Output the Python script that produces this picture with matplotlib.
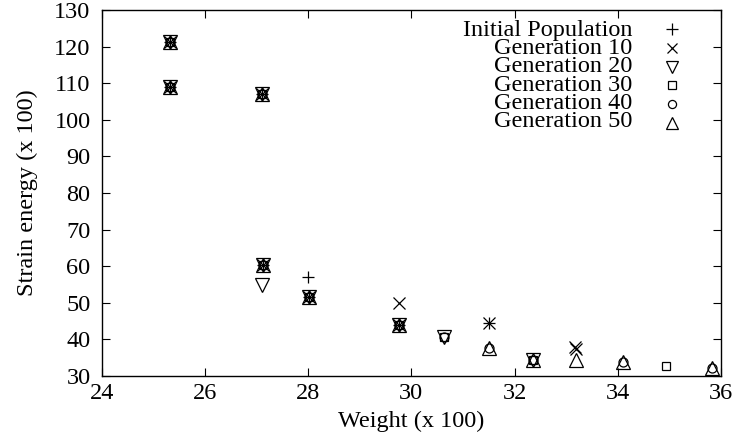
import matplotlib
matplotlib.use("Agg")
import matplotlib.pyplot as plt

plt.rcParams['font.family'] = ['Liberation Serif', 'DejaVu Serif']

# series (weight x 100, strain energy x 100)
labels = ["Initial Population", "Generation 10", "Generation 20",
          "Generation 30", "Generation 40", "Generation 50"]
markers = ["+", "x", "v", "s", "o", "^"]

init_w = [25.33, 25.33, 27.11, 27.12, 28.0, 28.02, 29.76, 31.51]
init_e = [121.4, 109.1, 107.0, 60.3, 57.1, 51.5, 43.9, 44.3]

gen10_w = [25.33, 25.33, 27.11, 27.12, 28.02, 29.76, 29.76, 31.51, 33.17, 33.2]
gen10_e = [121.4, 109.1, 107.0, 60.3, 51.5, 50.0, 43.9, 44.3, 37.9, 37.2]

gen20_w = [25.33, 25.33, 27.11, 27.12, 27.11, 28.02, 29.76, 30.63, 32.36]
gen20_e = [121.4, 109.1, 107.0, 60.3, 54.8, 51.5, 43.9, 40.5, 34.3]

gen30_w = [25.33, 25.33, 27.11, 27.12, 28.02, 29.76, 30.63, 32.36, 34.94]
gen30_e = [121.4, 109.1, 107.0, 60.3, 51.5, 43.9, 40.5, 34.3, 32.7]

gen40_w = [25.33, 25.33, 27.11, 27.12, 28.02, 29.76, 30.63, 31.51, 32.36, 34.1, 35.82]
gen40_e = [121.4, 109.1, 107.0, 60.3, 51.5, 43.9, 40.5, 37.5, 34.3, 33.8, 32.2]

gen50_w = [25.33, 25.33, 27.11, 27.12, 28.02, 29.76, 31.51, 32.36, 33.2, 34.1, 35.82]
gen50_e = [121.4, 109.1, 107.0, 60.3, 51.5, 43.9, 37.5, 34.3, 34.4, 33.8, 32.2]

xs = [init_w, gen10_w, gen20_w, gen30_w, gen40_w, gen50_w]
ys = [init_e, gen10_e, gen20_e, gen30_e, gen40_e, gen50_e]
sizes = [9, 8, 9.5, 6, 6.5, 9.5]

fig = plt.figure(figsize=(7.4, 4.38), dpi=100)
ax = fig.add_axes([0.1374, 0.1422, 0.8369, 0.8343])

for x, y, m, s in zip(xs, ys, markers, sizes):
    ax.plot(x, y, linestyle='none', marker=m, markersize=s,
            markerfacecolor='none', markeredgecolor='black',
            markeredgewidth=0.9, color='black', clip_on=False)

# gnuplot-style key: right-aligned text block, symbols to the right
row_step = 0.0512
top_row = 0.948
ax.text(0.857, top_row - 2.5 * row_step, "\n".join(labels),
        transform=ax.transAxes, ha='right', va='center',
        multialignment='right', linespacing=0.83, fontsize=17.5)
for i, (m, s) in enumerate(zip(markers, sizes)):
    ypos = top_row - i * row_step
    ax.plot([0.921], [ypos], transform=ax.transAxes, linestyle='none',
            marker=m, markersize=s * 0.9, markerfacecolor='none',
            markeredgecolor='black', markeredgewidth=0.9)

ax.set_xlim(24, 36)
ax.set_ylim(30, 130)
ax.set_xticks(range(24, 37, 2))
ax.set_yticks(range(30, 131, 10))
ax.tick_params(direction='in', length=6, width=0.8, top=True, right=True,
               labelsize=17.5)
ax.tick_params(axis='x', pad=5)
ax.tick_params(axis='y', pad=8)
for sp in ax.spines.values():
    sp.set_linewidth(1.0)

ax.set_xlabel('Weight (x 100)', fontsize=17.5, labelpad=5)
ax.set_ylabel('Strain energy (x 100)', fontsize=17.5, labelpad=12)

fig.savefig('out.png', dpi=100)
